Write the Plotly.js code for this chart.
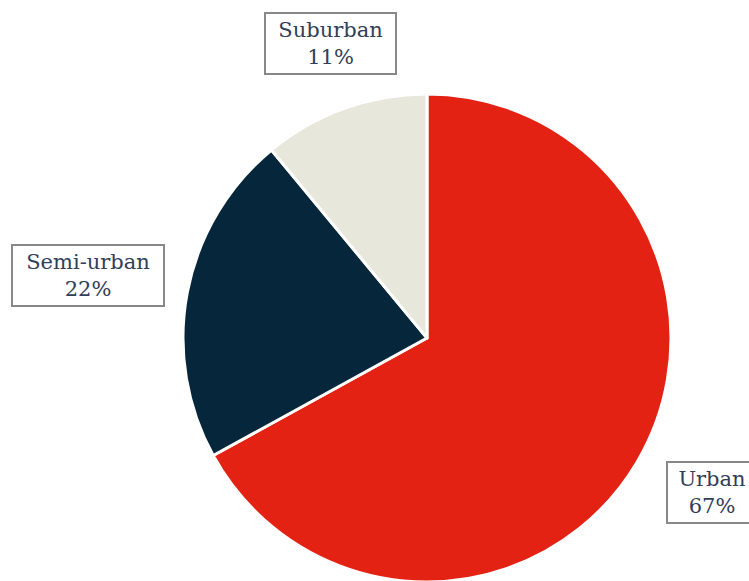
<!DOCTYPE html>
<html>
<head>
<meta charset="utf-8">
<script src="https://cdn.plot.ly/plotly-3.0.1.min.js"></script>
<style>html,body{margin:0;padding:0;overflow:hidden;background:#fff;}</style>
</head>
<body>
<div id="chart" style="width:749px;height:582px;"></div>
<script>
const categories = ["Urban", "Semi-urban", "Suburban"];
const shares = [67, 22, 11];
const sliceColors = ["#e32213", "#05263b", "#e8e7dc"];
// label box anchor positions (paper coords) and box widths (px)
const labelX = [0.951, 0.1175, 0.4413];
const labelY = [0.154, 0.527, 0.926];
const labelW = [76, 138, 117];

const annotations = categories.map((c, i) => ({
  xref: "paper", yref: "paper",
  x: labelX[i], y: labelY[i],
  xanchor: "center", yanchor: "middle",
  text: c + "<br>" + shares[i] + "%",
  showarrow: false,
  width: labelW[i], height: 47,
  font: {family: "DejaVu Serif, serif", size: 21, color: "#2f4058"},
  bordercolor: "#888888", borderwidth: 2, borderpad: 6,
  bgcolor: "#ffffff", align: "center"
}));

Plotly.newPlot("chart", [{
  type: "pie",
  labels: categories,
  values: shares,
  sort: false,
  direction: "clockwise",
  rotation: 0,
  marker: {colors: sliceColors, line: {color: "#ffffff", width: 3}},
  textinfo: "none",
  hoverinfo: "label+percent",
  domain: {x: [183/749, 671/749], y: [0, 488/582]},
  showlegend: false
}], {
  width: 749, height: 582,
  margin: {l: 0, r: 0, t: 0, b: 0},
  paper_bgcolor: "#ffffff",
  showlegend: false,
  annotations: annotations
}, {staticPlot: true});
</script>
</body>
</html>
